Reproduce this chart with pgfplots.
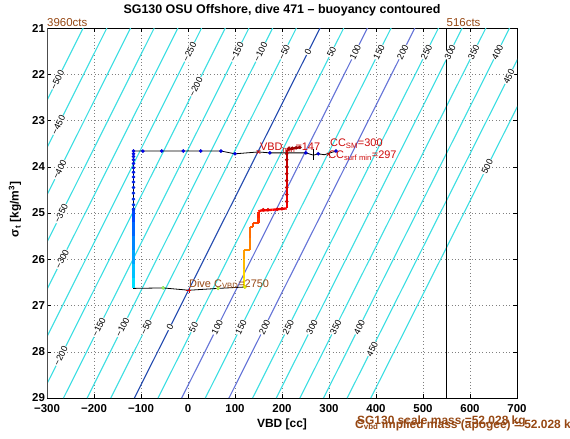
\documentclass[border=0pt]{standalone}
\usepackage{pgfplots}
\pgfplotsset{compat=1.18}
\usepackage{fontspec}
\setmainfont{Liberation Sans}
\definecolor{cyanc}{RGB}{60,222,226}
\definecolor{czero}{RGB}{35,75,175}
\definecolor{chund}{RGB}{100,115,215}
\definecolor{brn}{RGB}{150,72,20}
\definecolor{redt}{RGB}{205,10,10}
\tikzset{
  cy/.style={cyanc, line width=1.1bp},
  clab/.style={font=\fontsize{9}{9}\selectfont, rotate=63.4, fill=white, inner sep=0.6bp},
}
\begin{document}
\begin{tikzpicture}
\path[use as bounding box] (0bp,0bp) rectangle (570bp,439bp);
\begin{axis}[
  at={(47bp,41bp)}, anchor=south west,
  scale only axis, width=470bp, height=370bp,
  xmin=-300, xmax=700, ymin=21, ymax=29, y dir=reverse,
  xtick={-300,-200,-100,0,100,200,300,400,500,600,700},
  xticklabels={−300,−200,−100,0,100,200,300,400,500,600,700},
  ytick={21,22,23,24,25,26,27,28,29},
  yticklabels={21,22,23,24,25,26,27,28,29},
  tick align=inside, tick pos=both, major tick length=4bp,
  tick style={black, line width=0.5bp},
  grid=major, major grid style={gray, line width=0.5bp, dash pattern=on 0.8bp off 2.6bp},
  axis line style={line width=0.6bp},
  tick label style={font=\fontsize{11.5}{12}\selectfont\bfseries},
  xticklabel style={yshift=-3bp},
  yticklabel style={xshift=1.5bp},
  xlabel={VBD [cc]},
  xlabel style={font=\fontsize{12}{12}\selectfont\bfseries, at={(axis description cs:0.5,-0.081)}, anchor=base},
  ylabel={σ\textsubscript{t} [kg/m\textsuperscript{3}]},
  ylabel style={font=\fontsize{12}{12}\selectfont\bfseries, at={(axis description cs:-0.068,0.51)}, anchor=center},
  title={SG130 OSU Offshore, dive 471 – buoyancy contoured},
  title style={font=\fontsize{12.5}{13}\selectfont\bfseries, at={(axis description cs:0.5,1.024)}, anchor=base},
  colormap/jet, point meta min=0, point meta max=1,
]
% buoyancy contours (B = -500 ... 500 step 50)
\addplot[cy] coordinates {(-223,21)(-617,29)};
\addplot[cy] coordinates {(-172.6,21)(-566.7,29)};
\addplot[cy] coordinates {(-122.2,21)(-516.4,29)};
\addplot[cy] coordinates {(-71.8,21)(-466.1,29)};
\addplot[cy] coordinates {(-21.4,21)(-415.8,29)};
\addplot[cy] coordinates {(29,21)(-365.5,29)};
\addplot[cy] coordinates {(79.4,21)(-315.2,29)};
\addplot[cy] coordinates {(129.8,21)(-264.9,29)};
\addplot[cy] coordinates {(180.2,21)(-214.6,29)};
\addplot[cy] coordinates {(230.6,21)(-164.3,29)};
\addplot[czero, line width=1.1bp] coordinates {(281,21)(-114,29)};
\addplot[cy] coordinates {(331.4,21)(-63.7,29)};
\addplot[chund, line width=1.1bp] coordinates {(381.8,21)(-13.4,29)};
\addplot[cy] coordinates {(432.2,21)(36.9,29)};
\addplot[chund, line width=1.1bp] coordinates {(482.6,21)(87.2,29)};
\addplot[cy] coordinates {(533,21)(137.5,29)};
\addplot[cy] coordinates {(583.4,21)(187.8,29)};
\addplot[cy] coordinates {(633.8,21)(238.1,29)};
\addplot[cy] coordinates {(684.2,21)(288.4,29)};
\addplot[cy] coordinates {(734.6,21)(338.7,29)};
\addplot[cy] coordinates {(785,21)(389,29)};
% VBD limits
\addplot[black, line width=0.8bp] coordinates {(549,21)(549,29)};
\addplot[black!70, line width=1.6bp] coordinates {(-299,21)(-299,29)};
% contour labels
\node[clab] at (axis cs:3.3,21.52) {−250};
\node[clab] at (axis cs:16.7,22.27) {−200};
\node[clab] at (axis cs:104.1,21.52) {−150};
\node[clab] at (axis cs:154.5,21.52) {−100};
\node[clab] at (axis cs:204.9,21.52) {−50};
\node[clab] at (axis cs:255.3,21.52) {0};
\node[clab] at (axis cs:305.7,21.52) {50};
\node[clab] at (axis cs:356.1,21.52) {100};
\node[clab] at (axis cs:406.5,21.52) {150};
\node[clab] at (axis cs:456.9,21.52) {200};
\node[clab] at (axis cs:507.3,21.52) {250};
\node[clab] at (axis cs:557.7,21.52) {300};
\node[clab] at (axis cs:608.1,21.52) {350};
\node[clab] at (axis cs:658.5,21.52) {400};
\node[clab] at (axis cs:682.7,22.05) {450};
\node[clab] at (axis cs:636.8,24.0) {500};
\node[clab] at (axis cs:-278,22.12) {−500};
\node[clab] at (axis cs:-276,23.10) {−450};
\node[clab] at (axis cs:-273,24.06) {−400};
\node[clab] at (axis cs:-270,25.01) {−350};
\node[clab] at (axis cs:-268,26.0) {−300};
\node[clab] at (axis cs:-270.8,28.09) {−200};
\node[clab] at (axis cs:-189.8,27.47) {−150};
\node[clab] at (axis cs:-139.4,27.47) {−100};
\node[clab] at (axis cs:-89,27.47) {−50};
\node[clab] at (axis cs:-38.6,27.47) {0};
\node[clab] at (axis cs:11.8,27.47) {50};
\node[clab] at (axis cs:62.2,27.47) {100};
\node[clab] at (axis cs:112.6,27.47) {150};
\node[clab] at (axis cs:163,27.47) {200};
\node[clab] at (axis cs:213.4,27.47) {250};
\node[clab] at (axis cs:263.8,27.47) {300};
\node[clab] at (axis cs:314.2,27.47) {350};
\node[clab] at (axis cs:364.6,27.47) {400};
\node[clab] at (axis cs:391.8,27.94) {450};
% black dive path
\addplot[black, line width=0.8bp] table {
x y
315 23.66
290 23.74
277 23.72
267 23.75
251 23.70
174 23.70
150 23.68
100 23.72
70 23.66
27 23.66
-10 23.66
-56 23.66
-96 23.66
-116 23.66
-116 26.63
-53 26.62
2 26.67
64 26.63
121 26.60
};
\addplot[black, line width=0.8bp] coordinates {(267,23.62)(267,23.85)};
% descent colored line
\addplot[mesh, point meta=explicit, line width=2.3bp] table[meta=m] {
x y m
-116 24.90 0.18
-116 25.20 0.21
-116 25.50 0.24
-116 25.80 0.27
-116 26.10 0.30
-116 26.40 0.33
-116 26.63 0.36
};
% climb colored line
\addplot[mesh, point meta=explicit, line width=2.3bp] table[meta=m] {
x y m
119 26.60 0.63
119 26.40 0.655
119 26.20 0.68
119 26.00 0.705
119 25.80 0.73
132 25.80 0.74
132 25.55 0.76
132 25.30 0.78
139 25.30 0.79
139 25.22 0.80
150 25.22 0.81
150 25.10 0.83
150 24.97 0.85
153 24.95 0.86
180 24.93 0.87
210 24.90 0.88
210 24.60 0.895
210 24.30 0.91
210 24.00 0.925
210 23.64 0.94
225 23.60 0.95
238 23.58 0.96
};
% sample dots
\addplot[scatter, only marks, mark=*, mark size=1.6bp, scatter src=explicit] table[meta=m] {
x y m
315 23.66 0.10
277 23.72 0.105
251 23.70 0.11
174 23.70 0.112
100 23.72 0.115
70 23.66 0.118
27 23.66 0.12
-10 23.66 0.122
-56 23.66 0.125
-96 23.66 0.128
-116 23.66 0.13
-116 23.72 0.135
-116 23.78 0.14
-116 23.85 0.142
-116 23.93 0.145
-116 24.02 0.148
-116 24.12 0.15
-116 24.22 0.155
-116 24.33 0.16
-116 24.45 0.165
-116 24.57 0.17
-116 24.70 0.175
-116 24.82 0.18
-116 24.92 0.185
-53 26.62 0.53
64 26.63 0.56
121 26.60 0.62
160 24.93 0.87
170 24.93 0.87
190 24.92 0.875
200 24.91 0.88
210 24.75 0.89
210 24.60 0.895
210 24.45 0.90
210 24.30 0.91
210 24.15 0.915
210 24.00 0.925
210 23.85 0.93
210 23.72 0.94
215 23.60 0.95
222 23.60 0.955
230 23.59 0.96
238 23.58 0.96
};
% markers
\addplot[only marks, mark=x, mark size=2.5bp, color=redt, line width=0.7bp] coordinates {(150,23.68)};
\addplot[only marks, mark=x, mark size=2bp, color=redt, line width=0.7bp] coordinates {(299,23.73)};
\addplot[only marks, mark=+, mark size=2.5bp, color=redt, line width=0.7bp] coordinates {(2,26.67)};
% annotations
\node[anchor=base west, inner sep=0, text=redt, font=\fontsize{11}{11}\selectfont] at (axis cs:153,23.65) {VBD\textsubscript{min}=147};
\node[anchor=base west, inner sep=0, text=redt, font=\fontsize{11}{11}\selectfont] at (axis cs:302,23.57) {CC\textsubscript{SM}=300};
\node[anchor=base west, inner sep=0, text=redt, font=\fontsize{11}{11}\selectfont] at (axis cs:298,23.83) {CC\textsubscript{surf min}=297};
\node[anchor=base west, inner sep=0, text=brn, font=\fontsize{11}{11}\selectfont] at (axis cs:2,26.60) {Dive C\textsubscript{VBD}=2750};
\end{axis}
\node[anchor=base west, inner sep=0, text=brn, font=\fontsize{11.5}{11.5}\selectfont] at (47bp,412.5bp) {3960cts};
\node[anchor=base west, inner sep=0, text=brn, font=\fontsize{11.5}{11.5}\selectfont] at (446.5bp,412.5bp) {516cts};
\node[anchor=base west, inner sep=0, text=brn, font=\fontsize{12}{12}\selectfont\bfseries] at (357bp,14.5bp) {SG130 scale mass =52.028 kg};
\node[anchor=base west, inner sep=0, text=brn, font=\fontsize{12}{12}\selectfont\bfseries] at (355bp,11bp) {C\textsubscript{vbd} implied mass (apogee) = 52.028 kg};
\end{tikzpicture}
\end{document}
